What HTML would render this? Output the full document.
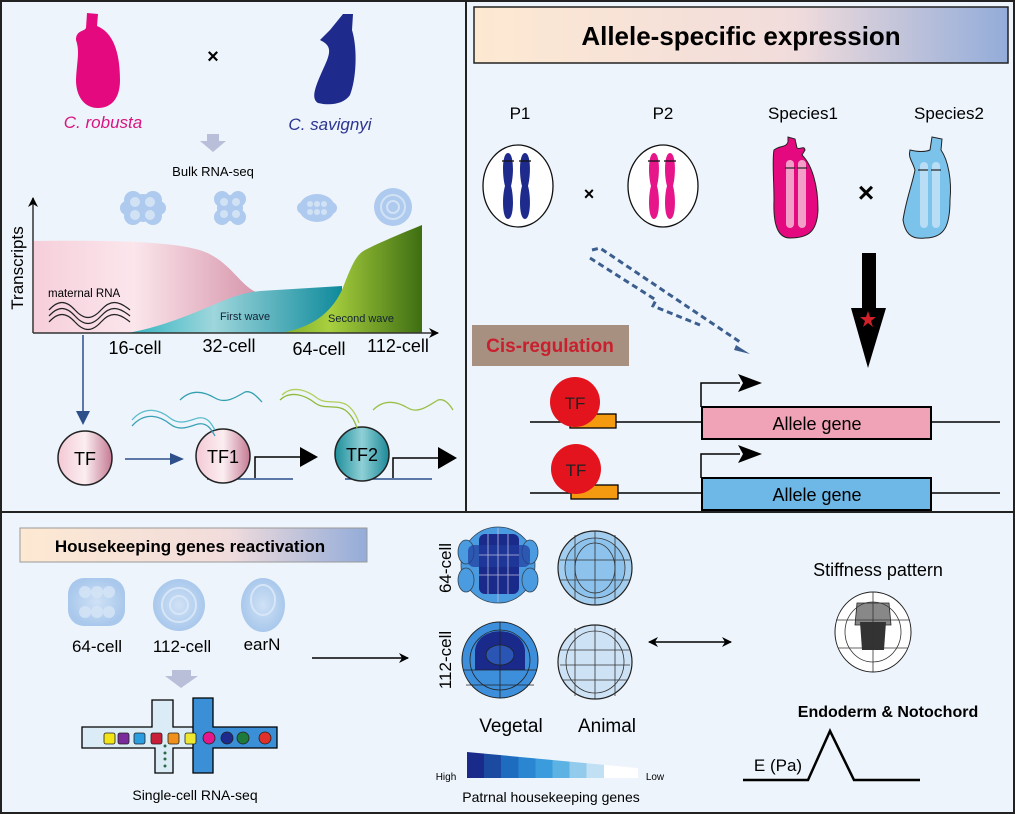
<!DOCTYPE html>
<html><head><meta charset="utf-8"><style>
html,body{margin:0;padding:0;background:#fff}
svg{display:block;font-family:"Liberation Sans",Arial,sans-serif}
</style></head><body>
<svg width="1015" height="814" viewBox="0 0 1015 814" xmlns="http://www.w3.org/2000/svg">
<defs>
<linearGradient id="title" x1="0" x2="1"><stop offset="0" stop-color="#fde9d2"/><stop offset="0.6" stop-color="#f1dcdc"/><stop offset="1" stop-color="#93acd9"/></linearGradient>
<linearGradient id="pinkA" x1="0" x2="1"><stop offset="0" stop-color="#f6cfdb"/><stop offset="0.45" stop-color="#fbe6ec"/><stop offset="1" stop-color="#d797ac"/></linearGradient>
<linearGradient id="tealA" x1="0" x2="1"><stop offset="0" stop-color="#2fb3c0"/><stop offset="0.4" stop-color="#9ed6dc"/><stop offset="1" stop-color="#0e8a9b"/></linearGradient>
<linearGradient id="greenA" x1="0" x2="1"><stop offset="0" stop-color="#7fae2c"/><stop offset="0.35" stop-color="#a8cf3e"/><stop offset="1" stop-color="#3e6e12"/></linearGradient>
<linearGradient id="tfpink" x1="0" x2="1"><stop offset="0" stop-color="#f3c9d5"/><stop offset="0.5" stop-color="#fbeef1"/><stop offset="1" stop-color="#c57a93"/></linearGradient>
<linearGradient id="tfteal" x1="0" x2="1"><stop offset="0" stop-color="#1c8e9a"/><stop offset="0.5" stop-color="#8fd0d6"/><stop offset="1" stop-color="#1b8997"/></linearGradient>
<radialGradient id="emb"><stop offset="0" stop-color="#cfe1f5"/><stop offset="1" stop-color="#a9c8ec"/></radialGradient>
<linearGradient id="heat" x1="0" x2="1">
<stop offset="0" stop-color="#1a2a8a"/><stop offset="0.1" stop-color="#1a2a8a"/>
<stop offset="0.1" stop-color="#1c4aa0"/><stop offset="0.2" stop-color="#1c4aa0"/>
<stop offset="0.2" stop-color="#1e6cc0"/><stop offset="0.3" stop-color="#1e6cc0"/>
<stop offset="0.3" stop-color="#2a86d0"/><stop offset="0.4" stop-color="#2a86d0"/>
<stop offset="0.4" stop-color="#3a9cdc"/><stop offset="0.5" stop-color="#3a9cdc"/>
<stop offset="0.5" stop-color="#5db2e4"/><stop offset="0.6" stop-color="#5db2e4"/>
<stop offset="0.6" stop-color="#92cbec"/><stop offset="0.7" stop-color="#92cbec"/>
<stop offset="0.7" stop-color="#c2e0f4"/><stop offset="0.8" stop-color="#c2e0f4"/>
<stop offset="0.8" stop-color="#ffffff"/><stop offset="1" stop-color="#ffffff"/></linearGradient>
<marker id="ah" markerWidth="10" markerHeight="10" refX="9" refY="5" orient="auto" markerUnits="userSpaceOnUse"><path d="M0,0 L10,5 L0,10 L3,5 Z" fill="#000"/></marker>
<marker id="ahs" markerWidth="10" markerHeight="10" refX="1" refY="5" orient="auto" markerUnits="userSpaceOnUse"><path d="M10,0 L0,5 L10,10 L7,5 Z" fill="#000"/></marker>
</defs>
<rect x="0" y="0" width="1015" height="814" fill="#edf4fb"/>
<rect x="1" y="1" width="1013" height="812" fill="none" stroke="#222" stroke-width="2"/>
<line x1="466" y1="0" x2="466" y2="512" stroke="#222" stroke-width="2"/>
<line x1="0" y1="512" x2="1015" y2="512" stroke="#222" stroke-width="2"/>

<!-- TOP LEFT -->
<path d="M76,40 C76,30 84,32 86,28 L87,13 L98,14 L97,26 C112,32 120,50 120,80 C120,100 110,108 98,108 C84,108 76,96 76,80 C77,60 80,52 76,40Z" fill="#e4097f"/>
<text x="103" y="128" font-size="17" font-style="italic" fill="#d9147f" text-anchor="middle">C. robusta</text>
<text x="213" y="63" font-size="20" font-weight="bold" text-anchor="middle">×</text>
<path d="M343,14 L353,14 L352,30 C358,50 356,80 350,95 C344,104 330,106 318,103 C310,98 316,85 325,65 C332,50 330,45 320,40 L330,30 Z" fill="#1e2a8c"/>
<text x="330" y="130" font-size="17" font-style="italic" fill="#2b3590" text-anchor="middle">C. savignyi</text>
<path d="M207,134 L219,134 L219,141 L226,141 L213,152 L200,141 L207,141Z" fill="#b9bfd8"/>
<text x="213" y="176" font-size="13" text-anchor="middle">Bulk RNA-seq</text>
<g fill="#aecaee">
<circle cx="133" cy="200" r="9"/><circle cx="153" cy="200" r="9"/><circle cx="133" cy="216" r="9"/><circle cx="153" cy="216" r="9"/><circle cx="143" cy="208" r="14"/><circle cx="127" cy="208" r="7"/><circle cx="159" cy="208" r="7"/>
<circle cx="222" cy="199" r="8"/><circle cx="238" cy="199" r="8"/><circle cx="222" cy="217" r="8"/><circle cx="238" cy="217" r="8"/><circle cx="230" cy="208" r="13"/>
<ellipse cx="317" cy="208" rx="18" ry="14"/><circle cx="303" cy="208" r="6"/><circle cx="331" cy="208" r="6"/>
<circle cx="393" cy="207" r="19"/>
</g>
<g fill="#dbe8f7" opacity="0.8">
<circle cx="135" cy="202" r="5"/><circle cx="150" cy="202" r="5"/><circle cx="135" cy="215" r="5"/><circle cx="150" cy="215" r="5"/>
<circle cx="224" cy="202" r="4"/><circle cx="236" cy="202" r="4"/><circle cx="224" cy="214" r="4"/><circle cx="236" cy="214" r="4"/>
<circle cx="310" cy="204" r="3"/><circle cx="317" cy="204" r="3"/><circle cx="324" cy="204" r="3"/><circle cx="310" cy="212" r="3"/><circle cx="317" cy="212" r="3"/><circle cx="324" cy="212" r="3"/>
<circle cx="393" cy="207" r="12" fill="none" stroke="#dbe8f7" stroke-width="2"/>
<circle cx="393" cy="207" r="6" fill="none" stroke="#dbe8f7" stroke-width="2"/>
</g>
<path d="M34,241 C120,240 180,242 205,252 C230,262 240,285 256,292 L256,333 L34,333Z" fill="url(#pinkA)"/>
<path d="M128,333 C170,325 200,310 225,300 C240,294 250,292 260,291 L342,286 L342,333Z" fill="url(#tealA)"/>
<path d="M280,333 C310,328 330,315 342,290 C350,270 355,255 365,250 C385,240 405,232 422,225 L422,333Z" fill="url(#greenA)"/>
<line x1="33" y1="333" x2="438" y2="333" stroke="#333" stroke-width="1.5" marker-end="url(#ah)"/>
<line x1="33" y1="333" x2="33" y2="198" stroke="#333" stroke-width="1.5" marker-end="url(#ah)"/>
<text transform="translate(23,268) rotate(-90)" font-size="17" text-anchor="middle">Transcripts</text>
<text x="48" y="297" font-size="11.5">maternal RNA</text>
<g fill="none" stroke="#222" stroke-width="1.2">
<path d="M49,310 C58,300 66,300 75,310 C84,320 92,320 101,310 C110,300 118,300 130,310"/>
<path d="M49,316 C58,306 66,306 75,316 C84,326 92,326 101,316 C110,306 118,306 130,316"/>
<path d="M49,322 C58,312 66,312 75,322 C84,332 92,332 101,322 C110,312 118,312 130,322"/>
</g>
<text x="220" y="320" font-size="11" fill="#123">First wave</text>
<text x="328" y="322" font-size="11" fill="#123">Second  wave</text>
<g font-size="18" text-anchor="middle">
<text x="135" y="354">16-cell</text><text x="229" y="352">32-cell</text><text x="319" y="355">64-cell</text><text x="398" y="352">112-cell</text>
</g>
<line x1="83" y1="335" x2="83" y2="412" stroke="#2d4f8a" stroke-width="1.5"/>
<path d="M76,411 L90,411 L83,425Z" fill="#2d4f8a"/>
<circle cx="85" cy="458" r="27" fill="url(#tfpink)" stroke="#222" stroke-width="1.5"/>
<text x="85" y="465" font-size="18" text-anchor="middle">TF</text>
<line x1="125" y1="459" x2="172" y2="459" stroke="#2d4f8a" stroke-width="1.5"/>
<path d="M170,453 L184,459 L170,465Z" fill="#2d4f8a"/>
<line x1="207" y1="479" x2="293" y2="479" stroke="#2d4f8a" stroke-width="1.5"/>
<line x1="345" y1="479" x2="432" y2="479" stroke="#2d4f8a" stroke-width="1.5"/>
<circle cx="223" cy="456" r="27" fill="url(#tfpink)" stroke="#222" stroke-width="1.5"/>
<text x="223" y="463" font-size="18" text-anchor="middle">TF1</text>
<path d="M255,478 L255,457 L302,457" fill="none" stroke="#000" stroke-width="1.5"/>
<path d="M300,447 L318,457 L300,467Z" fill="#000"/>
<circle cx="362" cy="454" r="27" fill="url(#tfteal)" stroke="#222" stroke-width="1.5"/>
<text x="362" y="461" font-size="18" text-anchor="middle">TF2</text>
<path d="M393,478 L393,458 L440,458" fill="none" stroke="#000" stroke-width="1.5"/>
<path d="M438,447 L457,458 L438,469Z" fill="#000"/>
<g fill="none" stroke-width="1.3">
<path d="M132,420 C145,405 160,410 170,418 C180,426 190,420 198,418 C208,416 212,425 215,430" stroke="#5bbccc"/>
<path d="M132,426 C145,411 160,416 170,424 C180,432 190,426 198,424 C208,422 212,431 215,436" stroke="#3aa0b5"/>
<path d="M180,400 C192,388 205,392 215,398 C225,404 235,398 245,392 C252,390 258,398 262,402" stroke="#33a0b0"/>
<path d="M280,400 C290,390 305,395 315,403 C325,410 335,404 345,410 C352,415 355,422 357,428" stroke="#8fba3a"/>
<path d="M282,395 C292,385 307,390 317,398 C327,405 337,399 347,405 C354,410 357,417 359,423" stroke="#b1cf5a"/>
<path d="M373,410 C385,398 398,402 408,408 C418,414 428,406 438,400 C445,398 450,405 453,410" stroke="#9bc04a"/>
</g>

<!-- TOP RIGHT -->
<rect x="474" y="7" width="534" height="56" fill="url(#title)" stroke="#222" stroke-width="1.5"/>
<text x="741" y="45" font-size="26" font-weight="bold" text-anchor="middle">Allele-specific expression</text>
<g font-size="17" text-anchor="middle">
<text x="520" y="119">P1</text><text x="663" y="119">P2</text><text x="803" y="119">Species1</text><text x="949" y="119">Species2</text>
</g>
<ellipse cx="518" cy="186" rx="35" ry="41" fill="#fff" stroke="#111" stroke-width="1.3"/>
<ellipse cx="663" cy="186" rx="35" ry="41" fill="#fff" stroke="#111" stroke-width="1.3"/>
<g fill="#1e2a8c"><path d="M508,153 C514,153 514,175 511,186 C514,196 514,219 508,219 C502,219 502,196 505,186 C502,175 502,153 508,153Z"/><path d="M525,153 C531,153 531,175 528,186 C531,196 531,219 525,219 C519,219 519,196 522,186 C519,175 519,153 525,153Z"/></g>
<g fill="#e6168a"><path d="M654,153 C660,153 660,175 657,186 C660,196 660,219 654,219 C648,219 648,196 651,186 C648,175 648,153 654,153Z"/><path d="M670,153 C676,153 676,175 673,186 C676,196 676,219 670,219 C664,219 664,196 667,186 C664,175 664,153 670,153Z"/></g>
<g stroke="#111" stroke-width="1.3"><line x1="502" y1="161" x2="514" y2="161"/><line x1="519" y1="161" x2="531" y2="161"/><line x1="648" y1="161" x2="660" y2="161"/><line x1="664" y1="161" x2="676" y2="161"/></g>
<text x="589" y="200" font-size="18" font-weight="bold" text-anchor="middle">×</text>
<path d="M774,150 C780,145 786,148 788,142 L788,137 L795,139 L797,148 C800,150 804,145 805,150 L802,155 C812,165 818,185 818,210 C817,232 808,238 790,238 C778,238 773,225 774,200 C774,180 772,160 774,150Z" fill="#e4097f" stroke="#222" stroke-width="1"/>
<g fill="#f5b8d7" opacity="0.85"><rect x="786" y="160" width="8" height="68" rx="4"/><rect x="798" y="160" width="8" height="68" rx="4"/></g>
<g stroke="#222" stroke-width="1.2"><line x1="785" y1="168" x2="795" y2="168"/><line x1="797" y1="168" x2="807" y2="168"/></g>
<text x="866" y="202" font-size="28" font-weight="bold" text-anchor="middle">×</text>
<path d="M932,137 L942,139 L941,150 C948,160 952,180 950,200 C950,225 945,238 925,238 C910,240 905,232 903,220 C906,200 912,185 915,170 C912,160 908,158 910,150 C918,152 925,152 930,150 Z" fill="#7cc3ec" stroke="#222" stroke-width="1"/>
<g fill="#c8e4f7" opacity="0.8"><rect x="920" y="162" width="8" height="66" rx="4"/><rect x="932" y="162" width="8" height="66" rx="4"/></g>
<g stroke="#222" stroke-width="1.2"><line x1="918" y1="170" x2="928" y2="170"/><line x1="931" y1="170" x2="941" y2="170"/></g>
<g fill="none" stroke="#3b5e8f" stroke-width="3" stroke-dasharray="6,4">
<path d="M592,250 L600,248 L740,342"/>
<path d="M590,258 L656,300 L653,306 L700,325"/>
</g>
<path d="M736,345 L750,354 L734,350Z" fill="#3b5e8f"/>
<rect x="862" y="253" width="14" height="58" fill="#000"/>
<path d="M851,308 L886,308 L868,368Z" fill="#000"/>
<path d="M868,311 L870,317 L876,317 L871,321 L873,327 L868,323 L863,327 L865,321 L860,317 L866,317Z" fill="#d0202a"/>
<rect x="472" y="325" width="157" height="41" fill="#a89080"/>
<text x="550" y="352" font-size="19" font-weight="bold" fill="#c8202e" text-anchor="middle">Cis-regulation</text>
<line x1="530" y1="422" x2="1000" y2="422" stroke="#000" stroke-width="1.5"/>
<line x1="530" y1="493" x2="1000" y2="493" stroke="#000" stroke-width="1.5"/>
<rect x="570" y="414" width="46" height="14" fill="#f49a10" stroke="#000" stroke-width="1.3"/>
<rect x="571" y="485" width="47" height="14" fill="#f49a10" stroke="#000" stroke-width="1.3"/>
<circle cx="575" cy="402" r="25" fill="#e4141e"/>
<circle cx="576" cy="469" r="25" fill="#e4141e"/>
<text x="575" y="409" font-size="17" text-anchor="middle" fill="#222">TF</text>
<text x="576" y="476" font-size="17" text-anchor="middle" fill="#222">TF</text>
<rect x="702" y="407" width="229" height="32" fill="#f0a3b6" stroke="#000" stroke-width="2"/>
<rect x="702" y="478" width="229" height="32" fill="#6db8e6" stroke="#000" stroke-width="2"/>
<text x="817" y="430" font-size="18" text-anchor="middle">Allele gene</text>
<text x="817" y="501" font-size="18" text-anchor="middle">Allele gene</text>
<path d="M701,407 L701,383 L740,383" fill="none" stroke="#000" stroke-width="1.5"/>
<path d="M738,374 L762,383 L738,392 L743,383Z" fill="#000"/>
<path d="M701,478 L701,454 L740,454" fill="none" stroke="#000" stroke-width="1.5"/>
<path d="M738,445 L762,454 L738,463 L743,454Z" fill="#000"/>

<!-- BOTTOM LEFT -->
<rect x="20" y="528" width="347" height="34" fill="url(#title)" stroke="#999" stroke-width="1"/>
<text x="190" y="552" font-size="17" font-weight="bold" text-anchor="middle">Housekeeping genes reactivation</text>
<g fill="url(#emb)">
<rect x="68" y="578" width="57" height="48" rx="16"/><circle cx="179" cy="605" r="26"/><ellipse cx="263" cy="605" rx="22" ry="27"/>
</g>
<g fill="#d7e6f7" opacity="0.8">
<circle cx="85" cy="592" r="6"/><circle cx="97" cy="592" r="6"/><circle cx="109" cy="592" r="6"/><circle cx="85" cy="612" r="6"/><circle cx="97" cy="612" r="6"/><circle cx="109" cy="612" r="6"/>
</g>
<circle cx="179" cy="605" r="17" fill="none" stroke="#d7e6f7" stroke-width="2"/>
<circle cx="179" cy="605" r="9" fill="none" stroke="#d7e6f7" stroke-width="2"/>
<ellipse cx="263" cy="600" rx="12" ry="15" fill="none" stroke="#d7e6f7" stroke-width="2"/>
<g font-size="17" text-anchor="middle"><text x="97" y="652">64-cell</text><text x="182" y="652">112-cell</text><text x="262" y="650">earN</text></g>
<path d="M172,670 L191,670 L191,676 L198,676 L181,688 L165,676 L172,676Z" fill="#b9bfd8"/>
<path d="M152,700 L173,700 L173,727 L196,727 L196,748 L173,748 L173,773 L155,773 L155,748 L82,748 L82,727 L152,727Z" fill="#dcecf6" stroke="#000" stroke-width="1.3"/>
<path d="M193,698 L213,698 L213,727 L277,727 L277,748 L213,748 L213,773 L193,773Z" fill="#3a8fd6" stroke="#000" stroke-width="1.3"/>
<g stroke="#222" stroke-width="0.8">
<rect x="104" y="733" width="11" height="11" rx="2" fill="#f2e415"/><rect x="118" y="733" width="11" height="11" rx="2" fill="#7a2a9a"/><rect x="134" y="733" width="11" height="11" rx="2" fill="#2a9de0"/><rect x="151" y="733" width="11" height="11" rx="2" fill="#c81e3a"/><rect x="168" y="733" width="11" height="11" rx="2" fill="#f0901a"/><rect x="185" y="733" width="11" height="11" rx="2" fill="#eee830"/>
<circle cx="209" cy="738" r="6" fill="#e4188a"/><circle cx="227" cy="738" r="6" fill="#1e2a8c"/><circle cx="243" cy="738" r="6" fill="#1e7a3a"/><circle cx="265" cy="738" r="6" fill="#e0302a"/>
</g>
<g fill="#2a6a4a"><circle cx="165" cy="746" r="1.5"/><circle cx="165" cy="753" r="1.5"/><circle cx="165" cy="759" r="1.5"/><circle cx="165" cy="766" r="1.5"/></g>
<text x="195" y="800" font-size="14" text-anchor="middle">Single-cell  RNA-seq</text>
<line x1="312" y1="658" x2="408" y2="658" stroke="#000" stroke-width="1.5" marker-end="url(#ah)"/>

<!-- BOTTOM MIDDLE embryos -->
<text transform="translate(451,568) rotate(-90)" font-size="17" text-anchor="middle">64-cell</text>
<text transform="translate(451,660) rotate(-90)" font-size="17" text-anchor="middle">112-cell</text>
<g fill="#4a9be0" stroke="#345" stroke-width="0.8">
<ellipse cx="498" cy="565" rx="37" ry="38"/>
<ellipse cx="466" cy="552" rx="8" ry="12"/><ellipse cx="530" cy="552" rx="8" ry="12"/><ellipse cx="466" cy="580" rx="8" ry="12"/><ellipse cx="530" cy="580" rx="8" ry="12"/>
</g>
<rect x="479" y="534" width="40" height="60" rx="6" fill="#1a2a8a"/>
<rect x="468" y="545" width="62" height="22" rx="6" fill="#1f3c9e" opacity="0.7"/>
<g stroke="#bbd" stroke-width="0.8" fill="none"><line x1="498" y1="528" x2="498" y2="602"/><line x1="479" y1="555" x2="519" y2="555"/><line x1="479" y1="575" x2="519" y2="575"/><line x1="488" y1="534" x2="488" y2="594"/><line x1="508" y1="534" x2="508" y2="594"/></g>
<circle cx="595" cy="568" r="37" fill="#a2cdef" stroke="#222" stroke-width="1.2"/>
<circle cx="595" cy="568" r="30" fill="#8dc2ec" stroke="#333" stroke-width="0.8"/>
<g stroke="#333" stroke-width="0.8" fill="none"><line x1="595" y1="531" x2="595" y2="605"/><line x1="560" y1="560" x2="630" y2="560"/><line x1="560" y1="580" x2="630" y2="580"/><line x1="575" y1="535" x2="575" y2="600"/><line x1="615" y1="535" x2="615" y2="600"/><ellipse cx="595" cy="568" rx="20" ry="25"/></g>
<circle cx="500" cy="660" r="38" fill="#3d8fdb" stroke="#222" stroke-width="1"/>
<path d="M475,650 C478,625 522,625 525,650 L525,670 L475,670Z" fill="#1a2a8a"/>
<ellipse cx="500" cy="655" rx="14" ry="10" fill="#2a55b5" stroke="#222" stroke-width="0.8"/>
<g stroke="#222" stroke-width="0.8" fill="none"><line x1="500" y1="622" x2="500" y2="698"/><line x1="463" y1="670" x2="537" y2="670"/><line x1="466" y1="685" x2="534" y2="685"/><ellipse cx="500" cy="660" rx="30" ry="30"/></g>
<circle cx="595" cy="662" r="37" fill="#cde2f5" stroke="#222" stroke-width="1.2"/>
<g stroke="#333" stroke-width="0.8" fill="none"><line x1="595" y1="625" x2="595" y2="699"/><line x1="560" y1="650" x2="630" y2="650"/><line x1="560" y1="665" x2="630" y2="665"/><line x1="562" y1="680" x2="628" y2="680"/><line x1="575" y1="628" x2="575" y2="696"/><line x1="615" y1="628" x2="615" y2="696"/><ellipse cx="595" cy="662" rx="29" ry="31"/></g>
<text x="511" y="732" font-size="19" text-anchor="middle">Vegetal</text>
<text x="607" y="732" font-size="19" text-anchor="middle">Animal</text>
<path d="M467,752 L638,768 L638,778 L467,778Z" fill="url(#heat)"/>
<text x="446" y="780" font-size="10" text-anchor="middle">High</text>
<text x="655" y="780" font-size="10" text-anchor="middle">Low</text>
<text x="551" y="802" font-size="14" text-anchor="middle">Patrnal housekeeping genes</text>
<line x1="649" y1="642" x2="731" y2="642" stroke="#000" stroke-width="1.5" marker-end="url(#ah)" marker-start="url(#ahs)"/>

<!-- BOTTOM RIGHT -->
<text x="878" y="576" font-size="18" text-anchor="middle">Stiffness pattern</text>
<ellipse cx="873" cy="632" rx="38" ry="40" fill="#fff" stroke="#222" stroke-width="1"/>
<path d="M857,603 L889,603 L891,625 L855,625Z" fill="#888" stroke="#222" stroke-width="0.8"/>
<path d="M860,622 L886,622 L884,650 L862,650Z" fill="#333"/>
<g stroke="#333" stroke-width="0.8" fill="none"><line x1="873" y1="592" x2="873" y2="672"/><line x1="836" y1="620" x2="910" y2="620"/><line x1="838" y1="648" x2="908" y2="648"/><ellipse cx="873" cy="632" rx="28" ry="30"/></g>
<text x="888" y="717" font-size="16" font-weight="bold" text-anchor="middle">Endoderm &amp; Notochord</text>
<text x="778" y="771" font-size="17" text-anchor="middle">E (Pa)</text>
<path d="M743,780 L808,780 L830,731 L854,780 L920,780" fill="none" stroke="#000" stroke-width="2.5"/>
</svg>
</body></html>
